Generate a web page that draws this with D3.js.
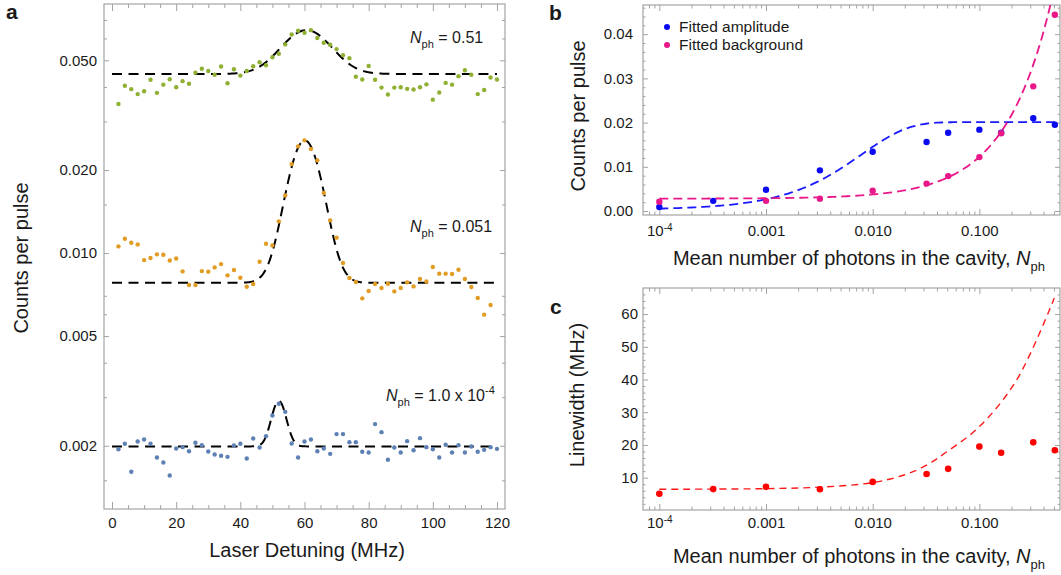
<!DOCTYPE html>
<html>
<head>
<meta charset="utf-8">
<script src="https://cdn.jsdelivr.net/npm/d3@7"></script>
<style>
body { margin: 0; background: #fff; }
svg text { font-family: "Liberation Sans", Arial, sans-serif; fill: #1a1a1a; }
</style>
</head>
<body>
<svg id="fig" width="1061" height="575"></svg>
<script>
// ----- panel a : spectra at three photon numbers -----
var detuning = [2,4,6,8,10,12,14,16,18,20,22,24,26,28,30,32,34,36,38,40,
                42,44,46,48,50,52,54,56,58,60,62,64,66,68,70,72,74,76,78,80,
                82,84,86,88,90,92,94,96,98,100,102,104,106,108,110,112,114,116,118,120];

var greenCounts = [0.0347,0.0404,0.0393,0.0377,0.0386,0.0425,0.0381,0.0408,0.0427,0.0399,
                   0.0420,0.0411,0.0451,0.0466,0.0457,0.0443,0.0475,0.0413,0.0464,0.0440,
                   0.0457,0.0476,0.0492,0.0480,0.0513,0.0528,0.0571,0.0620,0.0640,0.0629,
                   0.0643,0.0602,0.0579,0.0569,0.0549,0.0522,0.0509,0.0436,0.0426,0.0477,
                   0.0425,0.0398,0.0376,0.0398,0.0399,0.0394,0.0392,0.0399,0.0409,0.0360,
                   0.0382,0.0414,0.0408,0.0438,0.0460,0.0443,0.0377,0.0390,0.0433,0.0426];

var orangeCounts = [0.01057,0.01127,0.01090,0.01075,0.00943,0.00959,0.00989,0.00986,0.00940,0.00956,
                    0.00858,0.00766,0.00766,0.00860,0.00856,0.00887,0.00912,0.00830,0.00868,0.00814,
                    0.00755,0.00772,0.00930,0.01081,0.01066,0.01303,0.01618,0.02102,0.02437,0.02562,
                    0.02383,0.02168,0.01650,0.01314,0.01137,0.00920,0.00812,0.00785,0.00685,0.00728,
                    0.00772,0.00747,0.00774,0.00726,0.00747,0.00783,0.00757,0.00805,0.00789,0.00890,
                    0.00842,0.00842,0.00839,0.00870,0.00805,0.00753,0.00687,0.00598,0.00648];

var blueCounts = [0.001944,0.002034,0.001610,0.002074,0.002108,0.002034,0.001815,0.001740,0.001561,0.001956,
                  0.001978,0.001912,0.002051,0.002011,0.001907,0.001859,0.001840,0.001824,0.002006,0.002034,
                  0.001800,0.002126,0.001972,0.002168,0.002577,0.002840,0.002656,0.002040,0.001815,0.002074,
                  0.002108,0.001912,0.001956,0.001870,0.002205,0.002205,0.002062,0.002062,0.001902,0.001892,
                  0.002397,0.002242,0.001780,0.001972,0.001892,0.002079,0.001928,0.002132,0.001978,0.001944,
                  0.001815,0.002017,0.001892,0.002011,0.001892,0.001989,0.001902,0.001934,0.001978,0.001950];

// gaussian fit parameters, one entry per spectrum (green, orange, blue)
var fitBase   = [0.0446, 0.0078, 0.00199];
var fitPeak   = [0.0643, 0.0256, 0.00291];
var fitCenter = [60.6, 60.1, 52.0];
var fitSigma  = [7.4, 5.0, 2.2];

var xTicksA = [0, 20, 40, 60, 80, 100, 120];
var xMinorA = [5,10,15,25,30,35,45,50,55,65,70,75,85,90,95,105,110,115];
var yTicksA = [0.002, 0.005, 0.01, 0.02, 0.05];
var yMinorA = [0.0015, 0.003, 0.004, 0.006, 0.007, 0.015, 0.03, 0.04, 0.06, 0.07];

// ----- panels b and c : versus mean photon number -----
var photonN    = [1.0e-4, 3.2e-4, 0.001, 0.0032, 0.010, 0.032, 0.051, 0.10, 0.16, 0.32, 0.51];
var amplitude  = [0.0009, 0.0023, 0.0048, 0.0092, 0.0134, 0.0156, 0.0177, 0.0184, 0.0177, 0.0210, 0.0195];
var background = [0.0021, null, 0.0023, 0.0028, 0.0046, 0.0062, 0.0079, 0.0122, 0.0176, 0.0282, 0.0444];
var linewidth  = [5.1, 6.5, 7.2, 6.45, 8.7, 11.1, 12.7, 19.5, 17.6, 20.8, 18.4];

// fits: amplitude = off + top*(1-exp(-N/Ns)), background = b0 + k*N
var ampFit = {off: 0.0003, top: 0.0198, nsat: 0.0079};
var bgFit  = {b0: 0.0028, k: 0.0946};
// linewidth fit curve
var lwFitN   = [1e-4, 0.001, 0.0032, 0.01, 0.02, 0.032, 0.048, 0.1, 0.224, 0.504];
var lwFitVal = [6.45, 6.65, 7.1, 8.5, 10.9, 13.8, 17.6, 25.6, 39.9, 64.9];

var xTicksB = [1e-4, 1e-3, 1e-2, 1e-1];
var xTickLabelsB = ["10", "0.001", "0.010", "0.100"];
var yTicksB = [0, 0.01, 0.02, 0.03, 0.04];
var yTicksC = [10, 20, 30, 40, 50, 60];

var svg = d3.select("#fig");
var frameColor = "#a3a3a3";

// frame with inward ticks on all four sides
var drawFrame = function(g, x, y, o)
{
    var xr = x.range(), yr = y.range();
    var sides = [
        {axis: d3.axisBottom, t: "translate(0," + yr[0] + ")", scale: x, maj: o.xMaj, min: o.xMin, ml: o.xLen[0], nl: o.xLen[1], fmt: o.xFmt, pad: o.xPad},
        {axis: d3.axisTop,    t: "translate(0," + yr[1] + ")", scale: x, maj: o.xMaj, min: o.xMin, ml: o.xLen[0], nl: o.xLen[1], fmt: null},
        {axis: d3.axisLeft,   t: "translate(" + xr[0] + ",0)", scale: y, maj: o.yMaj, min: o.yMin, ml: o.yLen[0], nl: o.yLen[1], fmt: o.yFmt, pad: o.yPad},
        {axis: d3.axisRight,  t: "translate(" + xr[1] + ",0)", scale: y, maj: o.yMaj, min: o.yMin, ml: o.yLen[0], nl: o.yLen[1], fmt: null}
    ];
    var axes = [];
    sides.forEach(function(s)
    {
        g.append("g").attr("transform", s.t)
            .call(s.axis(s.scale).tickValues(s.min).tickSize(-s.nl).tickFormat(""));
        var a = g.append("g").attr("transform", s.t)
            .call(s.axis(s.scale).tickValues(s.maj).tickSize(-s.ml)
                  .tickPadding(s.pad || 3).tickFormat(s.fmt ? s.fmt : ""));
        axes.push(a);
    });
    g.selectAll(".domain").remove();
    g.selectAll(".tick line").attr("stroke", frameColor).attr("stroke-width", 1);
    g.selectAll(".tick text").attr("font-size", 15).attr("fill", "#1a1a1a")
        .attr("font-family", "'Liberation Sans', Arial, sans-serif");
    g.append("rect")
        .attr("x", xr[0]).attr("y", yr[1])
        .attr("width", xr[1] - xr[0]).attr("height", yr[0] - yr[1])
        .attr("fill", "none").attr("stroke", frameColor).attr("stroke-width", 1.2);
    return axes;
}

// text like "N_ph = 0.51"
var nphText = function(sel, rest, sup)
{
    sel.append("tspan").attr("font-style", "italic").text("N");
    sel.append("tspan").attr("font-size", 11).attr("dy", 5).text("ph");
    sel.append("tspan").attr("dy", -5).text(rest);
    if (sup) {
        sel.append("tspan").attr("font-size", 11).attr("dy", -7).text(sup);
    }
}

var logTicks = function(sel)
{
    sel.selectAll(".tick text").each(function(d)
    {
        if (d === 1e-4) {
            var t = d3.select(this);
            t.text("");
            t.append("tspan").text("10");
            t.append("tspan").attr("font-size", 10).attr("dy", "-0.5em").text("-4");
        }
    });
}

// ================= panel a =================
var xA = d3.scaleLinear().domain([-2.5, 122.5]).range([104, 505]);
var yA = d3.scaleLog().domain([0.00118, 0.08]).range([509, 4]);
var gA = svg.append("g");

drawFrame(gA, xA, yA, {
    xMaj: xTicksA, xMin: xMinorA, xLen: [7, 4], xFmt: d3.format("d"), xPad: 8,
    yMaj: yTicksA, yMin: yMinorA, yLen: [5, 3], yFmt: d3.format(".3f"), yPad: 7
});

var lineA = d3.line()
    .x(function(d) { return xA(d[0]); })
    .y(function(d) { return yA(d[1]); });

var fitGrid = d3.range(0, 120.01, 0.25);
[0, 1, 2].forEach(function(k)
{
    var pts = fitGrid.map(function(x)
    {
        var dx = x - fitCenter[k];
        return [x, fitBase[k] + (fitPeak[k] - fitBase[k]) * Math.exp(-dx * dx / (2 * fitSigma[k] * fitSigma[k]))];
    });
    gA.append("path")
        .attr("d", lineA(pts))
        .attr("fill", "none")
        .attr("stroke", "#000")
        .attr("stroke-width", 2)
        .attr("stroke-dasharray", "10,6.5");
});

var spectra = [
    {vals: greenCounts, color: "#8fb032"},
    {vals: orangeCounts, color: "#e19c24"},
    {vals: blueCounts, color: "#5e81b5"}
];
spectra.forEach(function(s)
{
    gA.append("g").selectAll("circle")
        .data(s.vals)
        .enter()
        .append("circle")
        .attr("cx", function(d, i) { return xA(detuning[i]); })
        .attr("cy", function(d) { return yA(d); })
        .attr("r", 2.2)
        .attr("fill", s.color);
});

gA.append("text").attr("x", 410).attr("y", 43).attr("font-size", 16).call(nphText, " = 0.51");
gA.append("text").attr("x", 410).attr("y", 232).attr("font-size", 16).call(nphText, " = 0.051");
gA.append("text").attr("x", 386).attr("y", 401).attr("font-size", 16).call(nphText, " = 1.0 x 10", "-4");

gA.append("text")
    .text("Laser Detuning (MHz)")
    .attr("text-anchor", "middle")
    .attr("x", 307).attr("y", 557)
    .attr("font-size", 20);
gA.append("text")
    .text("Counts per pulse")
    .attr("text-anchor", "middle")
    .attr("transform", "translate(28,258) rotate(-90)")
    .attr("font-size", 20);
gA.append("text").text("a").attr("x", 6).attr("y", 19)
    .attr("font-size", 21).attr("font-weight", "bold").attr("fill", "#000");

// ================= panel b =================
var xB = d3.scaleLog().domain([7.03e-5, 0.57]).range([643, 1060]);
var yB = d3.scaleLinear().domain([-0.0009, 0.0466]).range([215, 5]);
var gB = svg.append("g");

var logMinor = [];
[1e-5, 1e-4, 1e-3, 1e-2, 1e-1].forEach(function(dec)
{
    [2, 3, 4, 5, 6, 7, 8, 9].forEach(function(m)
    {
        var v = m * dec;
        if (v > xB.domain()[0] && v < xB.domain()[1]) logMinor.push(v);
    });
});
var yMinorB = [];
for (var i = 1; i <= 23; i++) {
    if (i % 5 !== 0) yMinorB.push(i * 0.002);
}

var xFmtB = function(d) { return xTickLabelsB[xTicksB.indexOf(d)]; };

var axB = drawFrame(gB, xB, yB, {
    xMaj: xTicksB, xMin: logMinor, xLen: [6, 3.5], xFmt: xFmtB, xPad: 10,
    yMaj: yTicksB, yMin: yMinorB, yLen: [5, 2.5], yFmt: d3.format(".2f"), yPad: 10
});
logTicks(axB[0]);

var clipB = svg.append("clipPath").attr("id", "clipB")
    .append("rect").attr("x", 643).attr("y", 5).attr("width", 417).attr("height", 210);

var nGrid = d3.range(-4, -0.24, 0.02).map(function(e) { return Math.pow(10, e); });
var lineB = d3.line()
    .x(function(d) { return xB(d[0]); })
    .y(function(d) { return yB(d[1]); });

gB.append("path")
    .attr("clip-path", "url(#clipB)")
    .attr("d", lineB(nGrid.map(function(n)
    {
        return [n, ampFit.off + ampFit.top * (1 - Math.exp(-n / ampFit.nsat))];
    })))
    .attr("fill", "none").attr("stroke", "#1a1aff")
    .attr("stroke-width", 1.8).attr("stroke-dasharray", "9,5");

gB.append("path")
    .attr("clip-path", "url(#clipB)")
    .attr("d", lineB(nGrid.map(function(n) { return [n, bgFit.b0 + bgFit.k * n]; })))
    .attr("fill", "none").attr("stroke", "#e8188a")
    .attr("stroke-width", 1.8).attr("stroke-dasharray", "9,5");

gB.append("g").selectAll("circle")
    .data(amplitude)
    .enter()
    .append("circle")
    .attr("cx", function(d, i) { return xB(photonN[i]); })
    .attr("cy", function(d) { return yB(d); })
    .attr("r", 3.2)
    .attr("fill", "#0a0af0");

gB.append("g").selectAll("circle")
    .data(background.map(function(v, i) { return {n: photonN[i], v: v}; })
                    .filter(function(d) { return d.v !== null; }))
    .enter()
    .append("circle")
    .attr("cx", function(d) { return xB(d.n); })
    .attr("cy", function(d) { return yB(d.v); })
    .attr("r", 3.2)
    .attr("fill", "#e8188a");

// legend
var legend = [{label: "Fitted amplitude", color: "#0a0af0"}, {label: "Fitted background", color: "#e8188a"}];
legend.forEach(function(l, i)
{
    gB.append("circle").attr("cx", 667).attr("cy", 27 + i * 18).attr("r", 3).attr("fill", l.color);
    gB.append("text").text(l.label).attr("x", 679).attr("y", 32 + i * 18).attr("font-size", 15.5);
});

gB.append("text")
    .attr("text-anchor", "middle")
    .attr("x", 859).attr("y", 265)
    .attr("font-size", 20)
    .call(nphTitle);
gB.append("text")
    .text("Counts per pulse")
    .attr("text-anchor", "middle")
    .attr("transform", "translate(585,116) rotate(-90)")
    .attr("font-size", 20);
gB.append("text").text("b").attr("x", 549).attr("y", 20)
    .attr("font-size", 21).attr("font-weight", "bold").attr("fill", "#000");

function nphTitle(sel)
{
    sel.append("tspan").text("Mean number of photons in the cavity, ");
    sel.append("tspan").attr("font-style", "italic").text("N");
    sel.append("tspan").attr("font-size", 13).attr("dy", 6).text("ph");
}

// ================= panel c =================
var xC = d3.scaleLog().domain([7.03e-5, 0.57]).range([643, 1060]);
var yC = d3.scaleLinear().domain([0.12, 67.96]).range([510, 288]);
var gC = svg.append("g");

var yMinorC = [];
for (var j = 2; j <= 66; j += 2) {
    if (j % 10 !== 0) yMinorC.push(j);
}

var axC = drawFrame(gC, xC, yC, {
    xMaj: xTicksB, xMin: logMinor, xLen: [6, 3.5], xFmt: xFmtB, xPad: 7,
    yMaj: yTicksC, yMin: yMinorC, yLen: [5, 2.5], yFmt: d3.format("d"), yPad: 5
});
logTicks(axC[0]);

var lineC = d3.line()
    .x(function(d) { return xC(d[0]); })
    .y(function(d) { return yC(d[1]); })
    .curve(d3.curveCatmullRom.alpha(0.5));

gC.append("path")
    .attr("d", lineC(lwFitN.map(function(n, i) { return [n, lwFitVal[i]]; })))
    .attr("fill", "none").attr("stroke", "#ff1a1a")
    .attr("stroke-width", 1.4).attr("stroke-dasharray", "7,5");

gC.append("g").selectAll("circle")
    .data(linewidth)
    .enter()
    .append("circle")
    .attr("cx", function(d, i) { return xC(photonN[i]); })
    .attr("cy", function(d) { return yC(d); })
    .attr("r", 3.3)
    .attr("fill", "#ff0000");

gC.append("text")
    .attr("text-anchor", "middle")
    .attr("x", 859).attr("y", 563)
    .attr("font-size", 20)
    .call(nphTitle);
gC.append("text")
    .text("Linewidth (MHz)")
    .attr("text-anchor", "middle")
    .attr("transform", "translate(584,395) rotate(-90)")
    .attr("font-size", 20);
gC.append("text").text("c").attr("x", 550).attr("y", 314)
    .attr("font-size", 21).attr("font-weight", "bold").attr("fill", "#000");
</script>
</body>
</html>
